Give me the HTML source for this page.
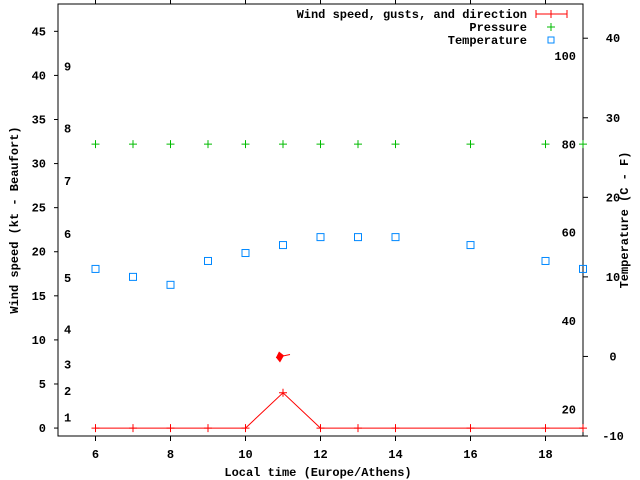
<!DOCTYPE html>
<html><head><meta charset="utf-8"><style>
html,body{margin:0;padding:0;background:#fff}
svg{display:block;font-family:"Liberation Mono","DejaVu Sans Mono",monospace;font-size:12px;font-weight:bold}
</style></head><body>
<svg id="chart" width="640" height="480">
<g id="axes"></g><g id="marks"></g>
</svg>
<script>
const hours=[6,7,8,9,10,11,12,13,14,16,18,19];
const windSpeed=[0,0,0,0,0,4,0,0,0,0,0,0];
const pressureHours=[6,7,8,9,10,11,12,13,14,16,18,19];
const pressure=[32.2,32.2,32.2,32.2,32.2,32.2,32.2,32.2,32.2,32.2,32.2,32.2];
const tempHours=[6,7,8,9,10,11,12,13,14,16,18,19];
const temperature=[11,10,9,12,13,14,15,15,15,14,12,11];
const xTicks=[6,8,10,12,14,16,18];
const yTicks=[0,5,10,15,20,25,30,35,40,45];
const y2Ticks=[-10,0,10,20,30,40];
const fLabels=[20,40,60,80,100];
const bftLabels=[1,2,3,4,5,6,7,8,9];
const bftKt=[1.2,4.2,7.2,11.2,17,22,28,34,41];
const arrowHour=[11];const arrowVal=[8];

const L=58,R=583,T=4,B=436,NS="http://www.w3.org/2000/svg";
const x=h=>L+(h-5)/(19-5)*(R-L);
const y=v=>B-(v+0.9)/(48.1+0.9)*(B-T);
const y2=c=>B-(c+10)/(44.3+10)*(B-T);
const ax=document.getElementById('axes'),mk=document.getElementById('marks');
function el(p,t,a,txt){const e=document.createElementNS(NS,t);for(const k in a)e.setAttribute(k,a[k]);if(txt!==undefined)e.textContent=txt;p.appendChild(e);return e;}
let e=el(ax,'rect',{x:L,y:T,width:R-L,height:B-T,fill:'none',stroke:'#000'});


xTicks.forEach(h=>{el(ax,'line',{x1:x(h),x2:x(h),y1:B,y2:B+5,stroke:'#000'});el(ax,'line',{x1:x(h),x2:x(h),y1:T,y2:T-4,stroke:'#000'});
 e=el(ax,'text',{x:x(h),y:B+22,'text-anchor':'middle'},h);
 
 });
yTicks.forEach(v=>{el(ax,'line',{x1:L-4,x2:L,y1:y(v),y2:y(v),stroke:'#000'});
 e=el(ax,'text',{x:L-12,y:y(v)+4,'text-anchor':'end'},v);
 
 });
y2Ticks.forEach(c=>{el(ax,'line',{x1:R,x2:R+5,y1:y2(c),y2:y2(c),stroke:'#000'});
 e=el(ax,'text',{x:R+30,y:y2(c)+4,'text-anchor':'middle'},c);
 
 });
fLabels.forEach(f=>{e=el(ax,'text',{x:576,y:y2((f-32)*5/9)+4,'text-anchor':'end'},f);
 
 });
bftLabels.forEach((b,i)=>{e=el(ax,'text',{x:64,y:y(bftKt[i])+4},b);
 
 });
e=el(ax,'text',{x:318,y:476,'text-anchor':'middle'},'Local time (Europe/Athens)');


e=el(ax,'text',{x:18,y:220,'text-anchor':'middle',transform:'rotate(-90 18 220)'},'Wind speed (kt - Beaufort)');


e=el(ax,'text',{x:628,y:220,'text-anchor':'middle',transform:'rotate(-90 628 220)'},'Temperature (C - F)');


// wind
e=el(mk,'polyline',{points:hours.map((h,i)=>x(h)+','+y(windSpeed[i])).join(' '),fill:'none',stroke:'#f00'});


hours.forEach((h,i)=>{e=el(mk,'path',{d:`M${x(h)-4},${y(windSpeed[i])}h8M${x(h)},${y(windSpeed[i])-4}v8`,stroke:'#f00'});
 
 });
arrowHour.forEach((h,i)=>{const ax0=x(h)-7,ay0=y(arrowVal[i]);
 e=el(mk,'g',{});
 
 
 el(e,'line',{x1:ax0,y1:ay0,x2:ax0+14,y2:ay0-3,stroke:'#f00'});
 el(e,'polygon',{points:`${ax0},${ay0} ${ax0+3},${ay0-6} ${ax0+8},${ay0-2} ${ax0+4},${ay0+5}`,fill:'#f00'});});
// pressure
pressureHours.forEach((h,i)=>{e=el(mk,'path',{d:`M${x(h)-4},${y(pressure[i])}h8M${x(h)},${y(pressure[i])-4}v8`,stroke:'#0b0'});
 
 });
// temperature
tempHours.forEach((h,i)=>{e=el(mk,'rect',{x:x(h)-3.5,y:y2(temperature[i])-3.5,width:7,height:7,fill:'none',stroke:'#08f'});
 
 });
// legend
const lg=el(ax,'g',{});


[['Wind speed, gusts, and direction',14],['Pressure',27],['Temperature',40]].forEach((l,i)=>{
 e=el(lg,'text',{x:527,y:l[1]+4,'text-anchor':'end'},l[0]);
 
 });
el(lg,'path',{d:'M536,14h31M536,10v8M567,10v8M551,10v8',stroke:'#f00'});
el(lg,'path',{d:'M547,27h8M551,23v8',stroke:'#0b0'});
el(lg,'rect',{x:548,y:37,width:6,height:6,fill:'none',stroke:'#08f'});
</script>
</body></html>
